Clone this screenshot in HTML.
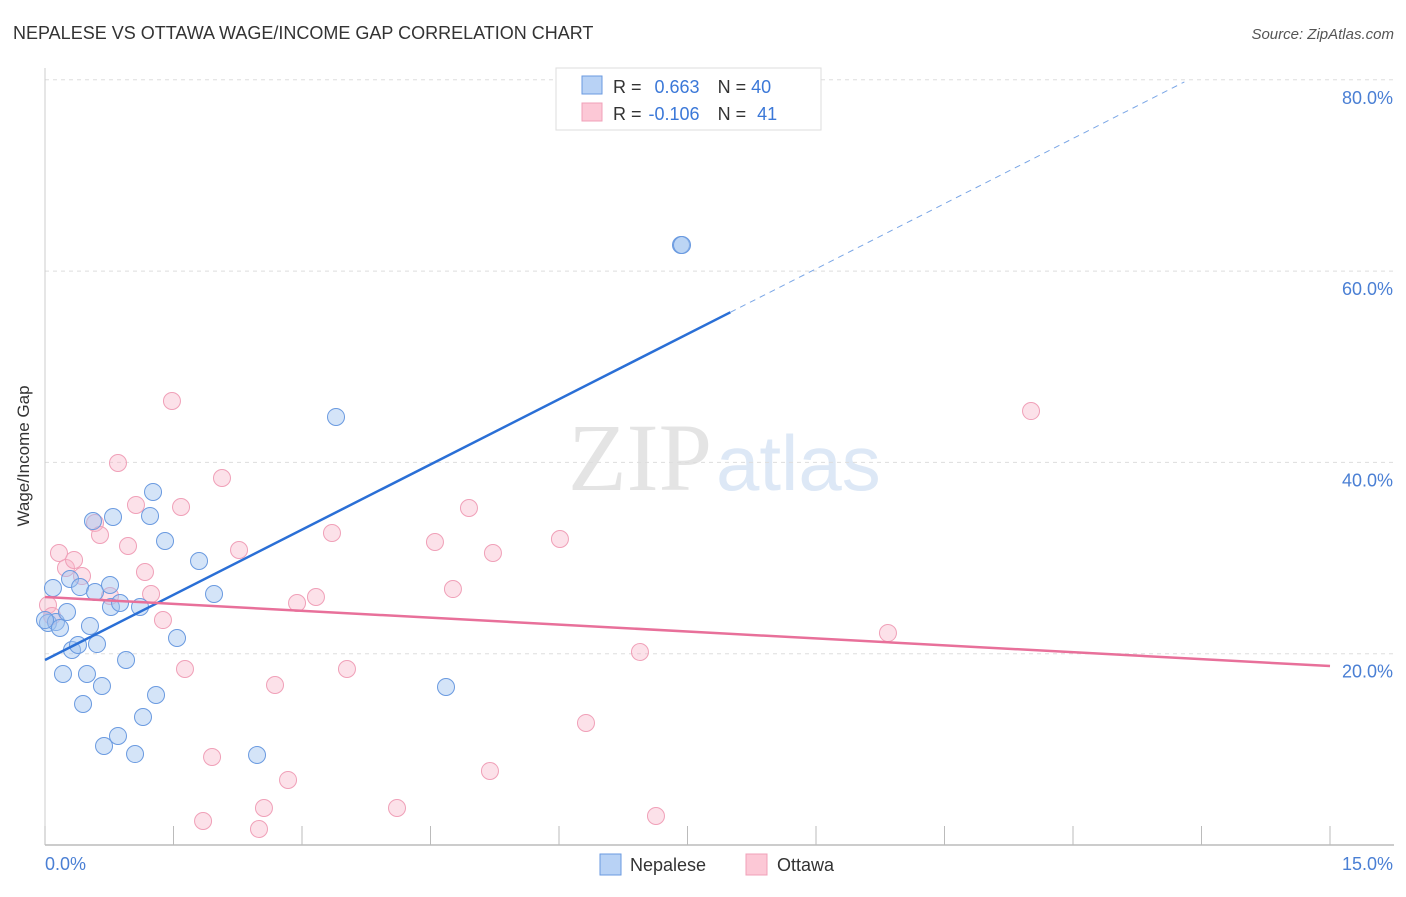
<!DOCTYPE html>
<html><head><meta charset="utf-8"><style>
body{margin:0;background:#fff;font-family:"Liberation Sans",sans-serif;}
</style></head><body>
<svg id="chart" width="1406" height="892" xmlns="http://www.w3.org/2000/svg">
<text x="13" y="39" font-size="18" fill="#333">NEPALESE VS OTTAWA WAGE/INCOME GAP CORRELATION CHART</text>
<text x="1394" y="39" font-size="15" fill="#555" font-style="italic" text-anchor="end">Source: ZipAtlas.com</text>
<text x="712" y="490" font-size="96" fill="#e4e4e4" text-anchor="end" font-family="Liberation Serif,serif">ZIP</text>
<text x="716" y="490" font-size="78" fill="#dde8f6">atlas</text>
<g id="grid"></g>
<g id="axes"></g>
<g id="points"></g>
<g id="trends"></g>
<text x="29" y="456" font-size="17" fill="#333" text-anchor="middle" transform="rotate(-90 29 456)">Wage/Income Gap</text>
<g>
<rect x="556" y="68" width="265" height="62" fill="#fff" stroke="#ddd"/>
<rect x="582" y="76" width="20" height="18" fill="#b8d2f5" stroke="#6a9ae0"/>
<rect x="582" y="103" width="20" height="18" fill="#fcc8d6" stroke="#f0a0b8"/>
<text x="613" y="93" font-size="18" fill="#333">R = <tspan fill="#3b78d8" dx="8">0.663</tspan><tspan dx="18" fill="#333">N = </tspan><tspan fill="#3b78d8">40</tspan></text>
<text x="613" y="120" font-size="18" fill="#333">R = <tspan fill="#3b78d8" dx="2">-0.106</tspan><tspan dx="18" fill="#333">N = </tspan><tspan fill="#3b78d8" dx="6">41</tspan></text>
</g>
<g>
<rect x="600" y="854" width="21" height="21" fill="#b8d2f5" stroke="#6a9ae0"/>
<text x="630" y="871" font-size="18" fill="#333">Nepalese</text>
<rect x="746" y="854" width="21" height="21" fill="#fcc8d6" stroke="#f0a0b8"/>
<text x="777" y="871" font-size="18" fill="#333">Ottawa</text>
</g>
</svg>
<script>
const yTicks=[20,40,60,80];
const yTickLabels=["20.0%","40.0%","60.0%","80.0%"];
const xTicks=[0,1.5,3,4.5,6,7.5,9,10.5,12,13.5,15];
const nepaleseX=[0.035,0.093,0.128,0.175,0.257,0.292,0.210,0.315,0.385,0.409,0.444,0.490,0.525,0.560,0.584,0.607,0.665,0.689,0.759,0.770,0.794,0.852,0.876,0.946,1.051,1.109,1.144,1.226,1.261,1.296,1.401,1.541,1.798,1.973,2.475,3.397,4.681,7.424,7.436,0];
const nepaleseY=[23.21,26.87,23.31,22.69,24.36,27.81,17.88,20.39,20.91,26.97,14.74,17.88,22.90,33.87,26.45,21.01,16.62,10.35,27.18,24.88,34.29,11.40,25.30,19.34,9.51,24.88,13.38,34.40,36.91,15.68,31.78,21.64,29.69,26.24,9.41,44.75,16.52,62.73,62.73,23.52];
const ottawaX=[0.035,0.082,0.163,0.245,0.339,0.432,0.584,0.642,0.759,0.852,0.969,1.062,1.167,1.238,1.377,1.482,1.588,1.634,1.845,1.950,2.066,2.265,2.498,2.556,2.685,2.837,2.942,3.163,3.350,3.525,4.109,4.552,4.762,4.949,5.194,5.229,6.011,6.315,6.945,7.132,9.840,11.510];
const ottawaY=[25.09,23.94,30.53,28.96,29.80,28.12,33.67,32.41,26.03,39.94,31.26,35.55,28.54,26.24,23.52,46.42,35.34,18.40,2.51,9.20,38.37,30.84,1.67,3.87,16.73,6.80,25.30,25.93,32.62,18.40,3.87,31.68,26.76,35.23,7.74,30.53,31.99,12.76,20.18,3.03,22.16,45.37];
const nepaleseTrend=[19.34,4.544];
const ottawaTrend=[25.93,18.71];
const NS="http://www.w3.org/2000/svg";
const X0=45,X1=1330,Y0=845,YS=191.3/20;
function xs(v){return X0+(X1-X0)*v/15;}
function ys(v){return Y0-v*YS;}
function mk(tag,attrs,parent){const e=document.createElementNS(NS,tag);for(const k in attrs)e.setAttribute(k,attrs[k]);parent.appendChild(e);return e;}
const grid=document.getElementById('grid'),axes=document.getElementById('axes'),pts=document.getElementById('points'),tr=document.getElementById('trends');
yTicks.forEach((t,i)=>{
 const l=mk('line',{x1:X0,x2:1394,y1:ys(t),y2:ys(t),stroke:'#ddd','stroke-dasharray':'4,4'},grid);
 
 
 const tx=mk('text',{x:1393,y:ys(t)+24,'font-size':18,fill:'#4a7fd4','text-anchor':'end'},axes);
 tx.textContent=yTickLabels[i];
 
 
});
const ax=mk('line',{x1:X0,x2:1394,y1:Y0,y2:Y0,stroke:'#bbb','stroke-width':1.5},axes);


const ay=mk('line',{x1:X0,x2:X0,y1:68,y2:Y0,stroke:'#ccc'},axes);


xTicks.forEach(t=>{
 const l=mk('line',{x1:xs(t),x2:xs(t),y1:826,y2:Y0,stroke:'#bbb'},axes);
 
 
});
const xl0=mk('text',{x:45,y:870,'font-size':18,fill:'#4a7fd4'},axes);xl0.textContent='0.0%';


const xl1=mk('text',{x:1393,y:870,'font-size':18,fill:'#4a7fd4','text-anchor':'end'},axes);xl1.textContent='15.0%';


ottawaX.forEach((v,i)=>{
 const c=mk('circle',{cx:xs(v),cy:ys(ottawaY[i]),r:8.5,fill:'rgba(248,180,200,0.4)',stroke:'#f0a0b8','stroke-width':1},pts);
 
 
});
nepaleseX.forEach((v,i)=>{
 const c=mk('circle',{cx:xs(v),cy:ys(nepaleseY[i]),r:8.5,fill:'rgba(160,195,240,0.45)',stroke:'#6a9ae0','stroke-width':1},pts);
 
 
});
const bEnd=8.0,dEnd=13.3;
const t1=mk('line',{x1:xs(0),y1:ys(nepaleseTrend[0]),x2:xs(bEnd),y2:ys(nepaleseTrend[0]+nepaleseTrend[1]*bEnd),stroke:'#2a6fd6','stroke-width':2.5},tr);


const t2=mk('line',{x1:xs(bEnd),y1:ys(nepaleseTrend[0]+nepaleseTrend[1]*bEnd),x2:xs(dEnd),y2:ys(nepaleseTrend[0]+nepaleseTrend[1]*dEnd),stroke:'#7aa6e6','stroke-width':1,'stroke-dasharray':'6,5'},tr);


const t3=mk('line',{x1:xs(0),y1:ys(ottawaTrend[0]),x2:xs(15),y2:ys(ottawaTrend[1]),stroke:'#e8709a','stroke-width':2.5},tr);


</script>
</body></html>
